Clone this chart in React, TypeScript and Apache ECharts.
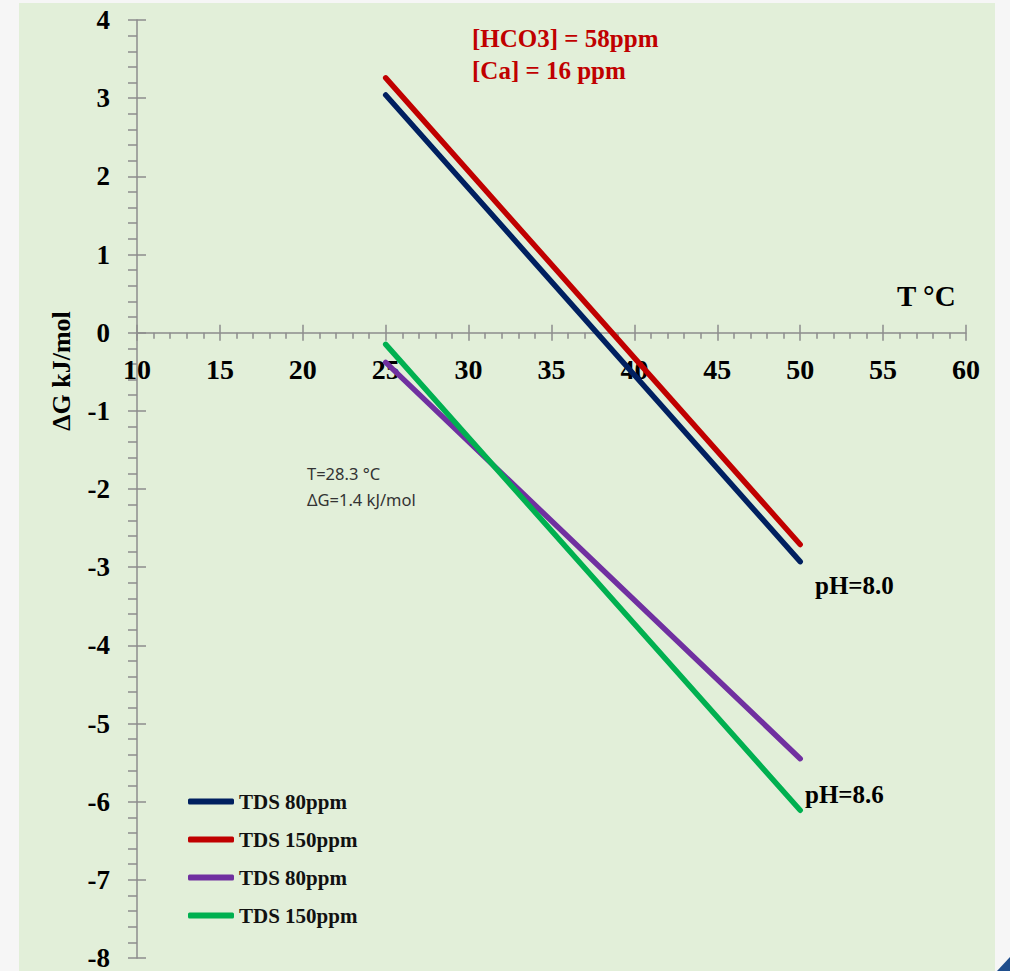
import React, { useEffect, useRef } from "react";
import * as echarts from "echarts";

const xTicks = { min: 10, max: 60, interval: 5 };
const yTicks = { min: -8, max: 4, interval: 1 };

const seriesNames = ["TDS 80ppm pH8.0", "TDS 150ppm pH8.0", "TDS 80ppm pH8.6", "TDS 150ppm pH8.6"];
const legendLabels = ["TDS 80ppm", "TDS 150ppm", "TDS 80ppm", "TDS 150ppm"];
const seriesColors = ["#002060", "#c00000", "#7030a0", "#00b050"];
const temps = [25, 50];
const blue80 = [3.04, -2.93];
const red150 = [3.26, -2.71];
const purple80 = [-0.38, -5.45];
const green150 = [-0.15, -6.11];
const seriesValues = [blue80, red150, purple80, green150];

const SERIF = "'Liberation Serif', 'Times New Roman', serif";
const SANS = "'Noto Sans', 'Open Sans', sans-serif";
const AXIS_COLOR = "#8c8c8c";

const W = 1010;
const H = 971;
const GRID = { left: 137, right: 44, top: 20, bottom: 13 };

export default function App() {
  const ref = useRef<HTMLDivElement>(null);
  useEffect(() => {
    if (!ref.current) return;
    const chart = echarts.init(ref.current, undefined, { renderer: "svg" });
    const labelMap: Record<string, string> = {};
    seriesNames.forEach((n, i) => (labelMap[n] = legendLabels[i]));
    const gridH = H - GRID.top - GRID.bottom;
    // offset that moves the bottom x axis up to y = 0
    const zeroOffset = -((0 - yTicks.min) / (yTicks.max - yTicks.min)) * gridH;
    const baseX = {
      type: "value" as const,
      min: xTicks.min,
      max: xTicks.max,
      interval: xTicks.interval,
      splitLine: { show: false },
      position: "bottom" as const,
      offset: zeroOffset,
    };
    const baseY = {
      type: "value" as const,
      min: yTicks.min,
      max: yTicks.max,
      interval: yTicks.interval,
      splitLine: { show: false },
      position: "left" as const,
    };
    chart.setOption({
      animation: false,
      backgroundColor: "transparent",
      grid: { ...GRID, containLabel: false, outerBoundsMode: "none" },
      legend: {
        orient: "vertical",
        left: 188,
        top: 791,
        padding: 0,
        itemWidth: 46,
        itemHeight: 6,
        itemGap: 17,
        icon: "roundRect",
        data: seriesNames,
        formatter: (n: string) => labelMap[n],
        textStyle: { fontFamily: SERIF, fontWeight: "bold", fontSize: 21, color: "#111" },
      },
      xAxis: [
        {
          ...baseX,
          axisLine: { show: true, onZero: false, lineStyle: { color: AXIS_COLOR, width: 1.5 } },
          axisTick: { show: true, length: 8, lineStyle: { color: AXIS_COLOR, width: 1.5 } },
          minorTick: { show: true, splitNumber: 5, length: 6, lineStyle: { color: AXIS_COLOR, width: 1.5 } },
          axisLabel: { margin: 23, fontFamily: SERIF, fontWeight: "bold", fontSize: 28, color: "#000" },
        },
        {
          ...baseX,
          axisLine: { show: false, onZero: false },
          axisTick: { show: true, inside: true, length: 8, lineStyle: { color: AXIS_COLOR, width: 1.5 } },
          axisLabel: { show: false },
        },
      ],
      yAxis: [
        {
          ...baseY,
          axisLine: { show: true, onZero: false, lineStyle: { color: AXIS_COLOR, width: 1.5 } },
          axisTick: { show: true, length: 9, lineStyle: { color: AXIS_COLOR, width: 1.5 } },
          minorTick: { show: true, splitNumber: 5, length: 9, lineStyle: { color: AXIS_COLOR, width: 1.5 } },
          axisLabel: { margin: 27, fontFamily: SERIF, fontWeight: "bold", fontSize: 27, color: "#000" },
        },
        {
          ...baseY,
          axisLine: { show: false, onZero: false },
          axisTick: { show: true, inside: true, length: 9, lineStyle: { color: AXIS_COLOR, width: 1.5 } },
          axisLabel: { show: false },
        },
      ],
      series: seriesNames.map((name, i) => ({
        name,
        type: "line",
        xAxisIndex: 0,
        yAxisIndex: 0,
        data: temps.map((t, j) => [t, seriesValues[i][j]]),
        symbol: "none",
        color: seriesColors[i],
        lineStyle: { width: 5.5, color: seriesColors[i], cap: "round" },
        z: 3 + i,
      })),
      graphic: [
        {
          type: "text",
          left: 472,
          top: 26,
          style: { text: "[HCO3] = 58ppm", fill: "#c00000", font: `bold 25px ${SERIF}` },
        },
        {
          type: "text",
          left: 472,
          top: 58,
          style: { text: "[Ca] = 16 ppm", fill: "#c00000", font: `bold 25px ${SERIF}` },
        },
        {
          type: "text",
          left: 897,
          top: 281,
          style: { text: "T °C", fill: "#000", font: `bold 29px ${SERIF}` },
        },
        {
          type: "text",
          x: 61,
          y: 371,
          rotation: Math.PI / 2,
          style: { text: "ΔG kJ/mol", fill: "#000", font: `bold 26px ${SERIF}`, align: "center", verticalAlign: "middle" },
        },
        {
          type: "text",
          left: 307,
          top: 465,
          style: { text: "T=28.3 °C", fill: "#333", font: `16.5px ${SANS}` },
        },
        {
          type: "text",
          left: 307,
          top: 491,
          style: { text: "ΔG=1.4 kJ/mol", fill: "#333", font: `16.5px ${SANS}` },
        },
        {
          type: "text",
          left: 815,
          top: 573,
          style: { text: "pH=8.0", fill: "#000", font: `bold 25px ${SERIF}` },
        },
        {
          type: "text",
          left: 805,
          top: 782,
          style: { text: "pH=8.6", fill: "#000", font: `bold 25px ${SERIF}` },
        },
        {
          type: "polygon",
          shape: { points: [[997, 971], [1010, 957], [1010, 971]] },
          style: { fill: "#1f4e8c" },
        },
      ],
    });
    return () => chart.dispose();
  }, []);
  return (
    <div style={{ position: "fixed", left: 0, top: 0, width: W, height: H, background: "#f6f6f6", overflow: "hidden" }}>
      <div style={{ position: "absolute", left: 19, top: 3, width: 976, height: 968, background: "#e2efd9" }} />
      <div ref={ref} style={{ position: "absolute", left: 0, top: 0, width: W, height: H }} />
    </div>
  );
}
